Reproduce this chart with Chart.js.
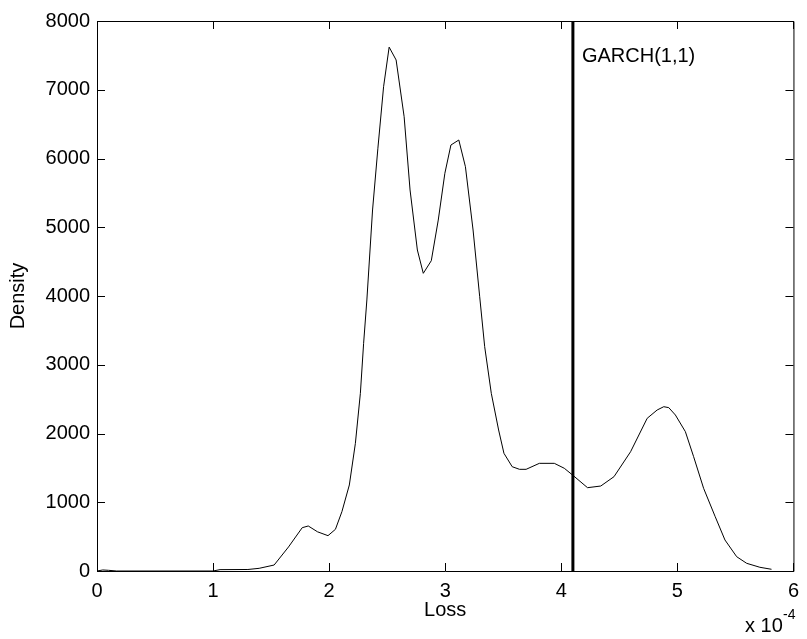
<!DOCTYPE html>
<html lang="en">
<head>
    <meta charset="UTF-8">
    <title>Loss density</title>
    <script src="https://cdn.jsdelivr.net/npm/chart.js"></script>
    <style>
        body {
            margin: 0;
            padding: 0;
            background: #fff;
        }
        .chart-container {
            width: 807px;
            height: 639px;
            position: relative;
        }
    </style>
</head>
<body>

<div class="chart-container">
    <canvas id="densityChart"></canvas>
</div>

<script>
    // Loss values (units of 1e-4) and the estimated density at each of them
    const lossX = [
        0, 0.05, 0.1, 0.17, 1.0, 1.06, 1.3, 1.397, 1.526, 1.65,
        1.768, 1.82, 1.9, 1.99, 2.054, 2.11, 2.174, 2.226, 2.269, 2.297,
        2.325, 2.374, 2.42, 2.469, 2.517, 2.577, 2.646, 2.697, 2.76, 2.811,
        2.88, 2.94, 2.997, 3.049, 3.117, 3.174, 3.24, 3.297, 3.34, 3.397,
        3.46, 3.506, 3.577, 3.64, 3.697, 3.811, 3.94, 4.026, 4.097, 4.226,
        4.34, 4.454, 4.597, 4.74, 4.826, 4.883, 4.926, 4.983, 5.069, 5.14,
        5.226, 5.326, 5.41, 5.511, 5.597, 5.711, 5.811
    ];
    const density = [
        0, 15, 10, 0, 0, 20, 22, 39, 87, 350,
        630, 655, 570, 514, 606, 863, 1251, 1857, 2584, 3312,
        3942, 5251, 6150, 7044, 7620, 7433, 6608, 5542, 4669, 4330,
        4513, 5105, 5785, 6196, 6269, 5881, 4960, 3990, 3263, 2584,
        2051, 1712, 1517, 1479, 1479, 1566, 1566, 1494, 1396, 1212,
        1236, 1372, 1735, 2221, 2342, 2390, 2376, 2269, 2027, 1663,
        1203, 790, 451, 208, 112, 54, 25
    ];

    // GARCH(1,1) loss marker
    const garchLoss = 4.1;
    const garchLabel = 'GARCH(1,1)';

    const xTicks = [0, 1, 2, 3, 4, 5, 6];
    const yTicks = [0, 1000, 2000, 3000, 4000, 5000, 6000, 7000, 8000];

    const FONT = 'Arial, "Liberation Sans", sans-serif';

    // MATLAB style box with inward ticks on all four sides
    const boxPlugin = {
        id: 'matlabBox',
        afterDraw(chart) {
            const ctx = chart.ctx;
            const area = chart.chartArea;
            const xs = chart.scales.x;
            const ys = chart.scales.y;
            const tl = 8;
            ctx.save();
            ctx.strokeStyle = '#000';
            ctx.lineWidth = 1;
            ctx.beginPath();
            ctx.rect(area.left + 0.5, area.top + 0.5, area.right - area.left, area.bottom - area.top);
            xTicks.forEach(v => {
                const px = Math.round(xs.getPixelForValue(v)) + 0.5;
                ctx.moveTo(px, area.bottom);
                ctx.lineTo(px, area.bottom - tl);
                ctx.moveTo(px, area.top);
                ctx.lineTo(px, area.top + tl);
            });
            yTicks.forEach(v => {
                const py = Math.round(ys.getPixelForValue(v)) + 0.5;
                ctx.moveTo(area.left, py);
                ctx.lineTo(area.left + tl, py);
                ctx.moveTo(area.right, py);
                ctx.lineTo(area.right - tl, py);
            });
            ctx.stroke();

            // marker label
            ctx.fillStyle = '#000';
            ctx.font = '20px ' + FONT;
            ctx.textAlign = 'left';
            ctx.textBaseline = 'middle';
            ctx.fillText(garchLabel, xs.getPixelForValue(garchLoss) + 9, ys.getPixelForValue(7490));

            // exponent note
            ctx.textBaseline = 'alphabetic';
            ctx.fillText('x 10', 745, 632);
            ctx.font = '14px ' + FONT;
            ctx.fillText('-4', 783, 619);
            ctx.restore();
        }
    };

    const ctx = document.getElementById('densityChart').getContext('2d');
    new Chart(ctx, {
        type: 'line',
        data: {
            datasets: [
                {
                    label: 'Density',
                    data: lossX.map((x, i) => ({ x: x, y: density[i] })),
                    borderColor: '#000',
                    borderWidth: 1,
                    pointRadius: 0,
                    tension: 0,
                    fill: false
                },
                {
                    label: garchLabel,
                    data: [{ x: garchLoss, y: 0 }, { x: garchLoss, y: 8000 }],
                    borderColor: '#000',
                    borderWidth: 3,
                    pointRadius: 0,
                    fill: false
                }
            ]
        },
        options: {
            responsive: true,
            maintainAspectRatio: false,
            animation: false,
            layout: {
                padding: { top: 21, right: 10, left: 6, bottom: 17 }
            },
            plugins: {
                legend: { display: false },
                tooltip: { enabled: false }
            },
            scales: {
                x: {
                    type: 'linear',
                    min: 0,
                    max: 6,
                    afterBuildTicks: s => { s.ticks = xTicks.map(v => ({ value: v })); },
                    afterFit: s => { s.height = 51; },
                    grid: { display: false, drawTicks: false },
                    border: { display: false },
                    ticks: {
                        color: '#000',
                        padding: 8,
                        font: { family: FONT, size: 20 },
                        callback: v => String(v)
                    },
                    title: {
                        display: true,
                        text: 'Loss',
                        color: '#000',
                        padding: { top: 0, bottom: 0 },
                        font: { family: FONT, size: 20 }
                    }
                },
                y: {
                    type: 'linear',
                    min: 0,
                    max: 8000,
                    afterBuildTicks: s => { s.ticks = yTicks.map(v => ({ value: v })); },
                    afterFit: s => { s.width = 91; },
                    grid: { display: false, drawTicks: false },
                    border: { display: false },
                    ticks: {
                        color: '#000',
                        padding: 7,
                        font: { family: FONT, size: 20 },
                        callback: v => String(v)
                    },
                    title: {
                        display: true,
                        text: 'Density',
                        color: '#000',
                        padding: { top: 0, bottom: 0 },
                        font: { family: FONT, size: 20 }
                    }
                }
            }
        },
        plugins: [boxPlugin]
    });
</script>
</body>
</html>
